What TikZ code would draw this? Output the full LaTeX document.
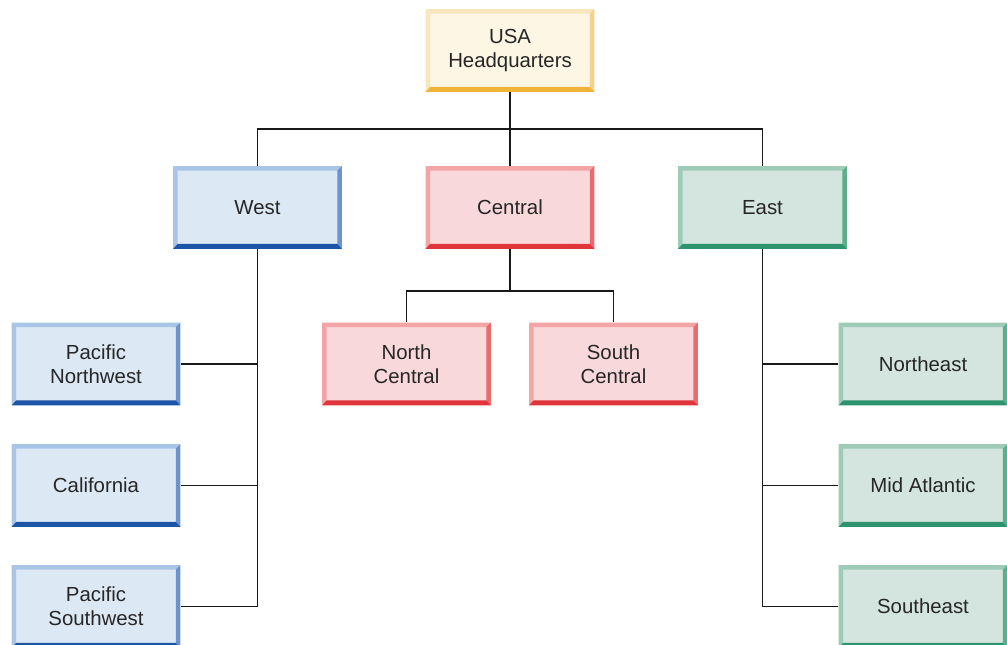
\documentclass[tikz,border=0pt]{standalone}
\usepackage{fontspec}
\setmainfont{Liberation Sans}
\definecolor{hqfill}{HTML}{FDF6E4}
\definecolor{hqlight}{HTML}{F8E6BC}
\definecolor{hqmid}{HTML}{F5D18A}
\definecolor{hqdark}{HTML}{F1B43A}
\definecolor{wfill}{HTML}{DCE9F5}
\definecolor{wlight}{HTML}{A8C5E6}
\definecolor{wmid}{HTML}{6D93CB}
\definecolor{wdark}{HTML}{1D55A6}
\definecolor{cfill}{HTML}{F8D8DB}
\definecolor{clight}{HTML}{F2A5A4}
\definecolor{cmid}{HTML}{E96B6B}
\definecolor{cdark}{HTML}{E0353A}
\definecolor{efill}{HTML}{D3E5DE}
\definecolor{elight}{HTML}{9DCBB8}
\definecolor{emid}{HTML}{5DAE8F}
\definecolor{edark}{HTML}{2E9470}
\tikzset{
  region/.style n args={4}{
    fill=#1, minimum width=3.38cm, minimum height=1.66cm, inner sep=0pt,
    align=center, text=black!85,
    font=\fontsize{11.6pt}{13.8pt}\selectfont,
    path picture={
      \fill[#2] (path picture bounding box.north west) -- (path picture bounding box.north east)
        -- ([shift={(-0.09cm,-0.09cm)}]path picture bounding box.north east)
        -- ([shift={(0.09cm,-0.09cm)}]path picture bounding box.north west) -- cycle;
      \fill[#2] (path picture bounding box.north west) -- ([shift={(0.09cm,-0.09cm)}]path picture bounding box.north west)
        -- ([shift={(0.09cm,0.1cm)}]path picture bounding box.south west)
        -- (path picture bounding box.south west) -- cycle;
      \fill[#3] (path picture bounding box.north east) -- ([shift={(-0.09cm,-0.09cm)}]path picture bounding box.north east)
        -- ([shift={(-0.09cm,0.1cm)}]path picture bounding box.south east)
        -- (path picture bounding box.south east) -- cycle;
      \fill[#4] (path picture bounding box.south west) -- (path picture bounding box.south east)
        -- ([shift={(-0.09cm,0.1cm)}]path picture bounding box.south east)
        -- ([shift={(0.09cm,0.1cm)}]path picture bounding box.south west) -- cycle;
    }},
  hqbox/.style={region={hqfill}{hqlight}{hqmid}{hqdark}},
  westbox/.style={region={wfill}{wlight}{wmid}{wdark}},
  centralbox/.style={region={cfill}{clight}{cmid}{cdark}},
  eastbox/.style={region={efill}{elight}{emid}{edark}},
  link/.style={draw=black!90, line width=1pt}
}
\begin{document}
\begin{tikzpicture}[x=0.02cm, y=-0.02cm]
  \useasboundingbox (0,0) rectangle (1007,645);
  \node[hqbox] (usa) at (510,50.5) {USA\\Headquarters};
  \node[westbox] (west) at (257.5,207.5) {West};
  \node[centralbox] (central) at (510,207.5) {Central};
  \node[eastbox] (east) at (762.5,207.5) {East};
  % west region
  \node[westbox] (pnw) at (96,364) {Pacific\\Northwest};
  \node[westbox] (cal) at (96,485.5) {California};
  \node[westbox] (psw) at (96,606.5) {Pacific\\Southwest};
  % central region
  \node[centralbox] (nc) at (406.5,364) {North\\Central};
  \node[centralbox] (sc) at (613.5,364) {South\\Central};
  % east region
  \node[eastbox] (ne) at (923,364) {Northeast};
  \node[eastbox] (ma) at (923,485.5) {Mid Atlantic};
  \node[eastbox] (se) at (923,606.5) {Southeast};
  \coordinate (hqsplit) at (510,129);
  \coordinate (csplit) at (510,291);
  \begin{scope}[link]
    \draw (usa.south) -- (central.north);
    \draw (west.north) |- (hqsplit) -| (east.north);
    \draw (central.south) -- (csplit);
    \draw (nc.north) |- (csplit) -| (sc.north);
    \draw (west.south) |- (psw.east);
    \draw (pnw.east) -- (pnw.east -| west.south);
    \draw (cal.east) -- (cal.east -| west.south);
    \draw (east.south) |- (se.west);
    \draw (ne.west) -- (ne.west -| east.south);
    \draw (ma.west) -- (ma.west -| east.south);
  \end{scope}
\end{tikzpicture}
\end{document}
